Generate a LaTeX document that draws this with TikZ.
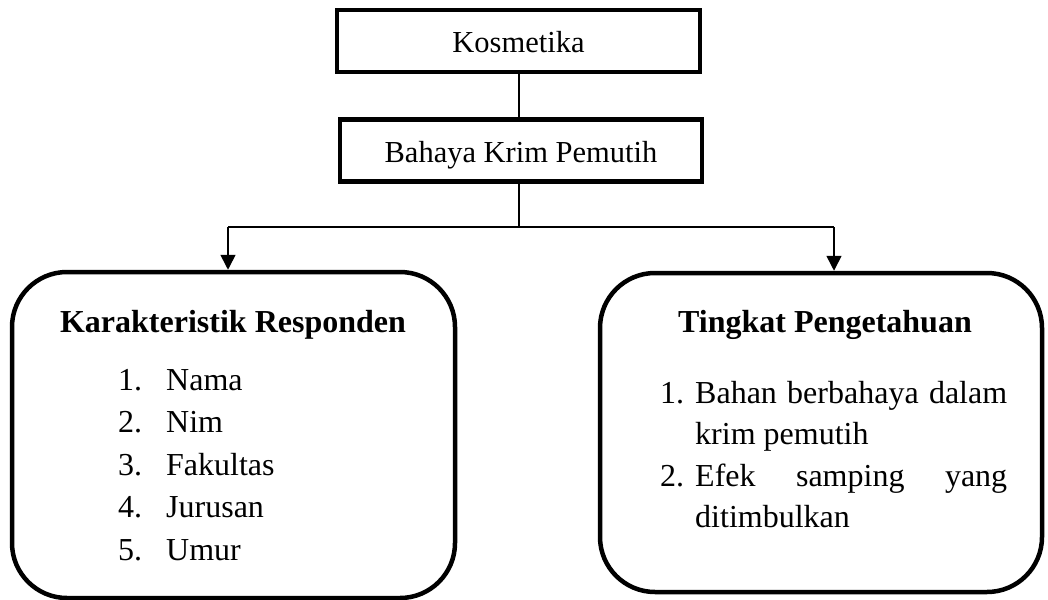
\documentclass[tikz,border=0pt]{standalone}
\usepackage{fontspec}
\setmainfont{Liberation Serif}
\usetikzlibrary{arrows.meta}
\begin{document}
\begin{tikzpicture}[x=1pt,y=1pt,
  topbox/.style={draw, line width=4.5pt, minimum width=#1, minimum height=62pt, inner sep=0pt},
  roundbox/.style={draw, line width=4.5pt, rounded corners=55pt, inner sep=0pt},
  toptxt/.style={inner sep=0pt, font=\fontsize{30.5}{36}\selectfont},
  txt/.style={inner sep=0pt, font=\fontsize{32}{38}\selectfont},
  head/.style={inner sep=0pt, font=\fontsize{32}{38}\selectfont\bfseries},
  conn/.style={line width=1.6pt},
  arr/.style={line width=1.6pt, -{Triangle[length=15pt,width=15pt]}}]
\useasboundingbox (0,0) rectangle (1048,-599);
% top boxes
\node[topbox=363pt] (kos) at (518.5,-41) {};
\node[toptxt, anchor=base] (kost) at (518.5,-53) {Kosmetika};
\node[topbox=362pt] (bah) at (521,-150.5) {};
\node[toptxt, anchor=base] (baht) at (521,-162) {Bahaya Krim Pemutih};
% bottom boxes
\node[roundbox, minimum width=443pt, minimum height=326pt] (kr) at (233.5,-435) {};
\node[roundbox, minimum width=442pt, minimum height=319pt] (tp) at (821,-432.5) {};
% connectors
\coordinate (j) at (519,-227);
\coordinate (jl) at (228,-227);
\coordinate (jr) at (834,-227);
\draw[conn] (kos.south -| j) -- (bah.north -| j);
\draw[conn] (bah.south -| j) -- (j);
\draw[conn] (jl) -- (jr);
\draw[arr] (jl) -- (jl |- kr.north);
\draw[arr] (jr) -- (jr |- tp.north);
% left box text
\node[head, anchor=base] (krh) at (233,-332) {Karakteristik Responden};
\node[txt, anchor=base west] (n1) at (118,-390) {1.};
\node[txt, anchor=base west] (t1) at (166,-390) {Nama};
\node[txt, anchor=base west] (n2) at (118,-432.5) {2.};
\node[txt, anchor=base west] (t2) at (166,-432.5) {Nim};
\node[txt, anchor=base west] (n3) at (118,-475) {3.};
\node[txt, anchor=base west] (t3) at (166,-475) {Fakultas};
\node[txt, anchor=base west] (n4) at (118,-517.5) {4.};
\node[txt, anchor=base west] (t4) at (166,-517.5) {Jurusan};
\node[txt, anchor=base west] (n5) at (118,-560) {5.};
\node[txt, anchor=base west] (t5) at (166,-560) {Umur};
% right box text
\node[head, anchor=base] (tph) at (825,-332) {Tingkat Pengetahuan};
\node[txt, anchor=base west] (m1) at (660,-403) {1.};
\node[txt, anchor=base west] (s1) at (695,-403) {\hbox to 312pt{Bahan\hfill berbahaya\hfill dalam}};
\node[txt, anchor=base west] (s1b) at (695,-444) {krim pemutih};
\node[txt, anchor=base west] (m2) at (660,-486) {2.};
\node[txt, anchor=base west] (s2) at (695,-486) {\hbox to 312pt{Efek\hfill samping\hfill yang}};
\node[txt, anchor=base west] (s2b) at (695,-527) {ditimbulkan};
\end{tikzpicture}
\end{document}
